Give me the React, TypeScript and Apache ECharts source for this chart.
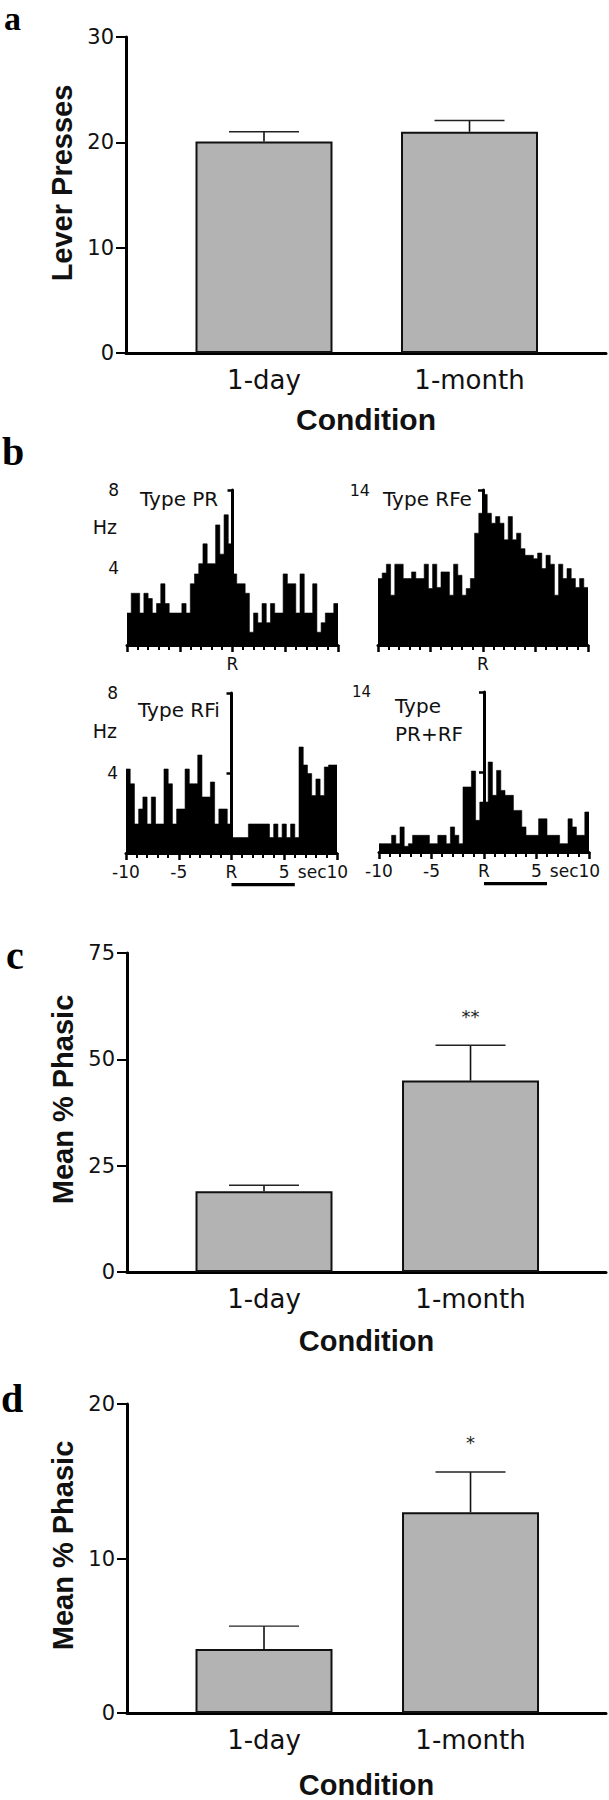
import React, { useEffect, useRef } from 'react';
import * as echarts from 'echarts';

// ---------- data ----------
const categories = ['1-day', '1-month'];
const categoryPositions = [1, 2];

const leverMeans = [20.07, 21.0];
const leverErr = [0.93, 1.07];

const phasicCMeans = [19.0, 45.0];
const phasicCErr = [1.4, 8.3];
const phasicCSig = ['', '**'];

const phasicDMeans = [4.15, 13.0];
const phasicDErr = [1.47, 2.6];
const phasicDSig = ['', '*'];

const binStart = -10;
const binWidth = 0.4;

const binsPR = [
  1.65, 2.67, 2.67, 1.65, 2.67, 2.4, 1.65, 2.14, 3.16, 2.14,
  1.65, 1.65, 1.65, 2.14, 1.65, 3.16, 3.67, 4.2, 5.22, 4.2,
  4.2, 6.2, 4.69, 6.72, 5.22, 3.67, 3.16, 3.16, 2.67, 0.66,
  1.65, 1.15, 2.14, 1.15, 2.14, 1.65, 1.65, 3.67, 3.16, 3.16,
  1.65, 3.67, 1.65, 1.65, 3.16, 0.66, 1.15, 1.65, 1.65, 2.14,
];
const binsRFe = [
  6.0, 6.5, 7.3, 4.5, 7.3, 7.3, 6.0, 6.0, 6.6, 6.0,
  6.0, 7.3, 5.1, 7.3, 5.2, 6.6, 6.6, 4.5, 7.3, 6.3,
  4.5, 5.1, 6.0, 10.1, 11.9, 13.6, 11.9, 11.0, 11.6, 11.0,
  9.5, 11.6, 9.5, 10.1, 8.7, 8.1, 8.1, 7.8, 8.3, 6.9,
  8.1, 7.3, 4.5, 7.3, 6.0, 6.9, 6.0, 5.2, 6.0, 5.2,
];
const binsRFi = [
  4.2, 3.46, 1.45, 2.2, 2.8, 1.45, 2.8, 1.45, 1.45, 4.2,
  3.46, 1.45, 2.2, 2.2, 4.2, 3.46, 3.46, 4.9, 2.8, 2.8,
  3.55, 1.45, 2.2, 2.2, 1.45, 0.77, 0.77, 0.77, 0.77, 1.45,
  1.45, 1.45, 1.45, 1.45, 0.77, 1.45, 0.77, 1.45, 0.77, 1.45,
  0.77, 5.3, 4.4, 3.97, 2.87, 3.7, 2.87, 4.3, 4.4, 4.4,
];
const binsPRRF = [
  0.73, 0.73, 0.73, 1.46, 0.73, 2.19, 0.5, 0.73, 1.46, 1.46,
  1.46, 1.46, 0.73, 0.73, 1.46, 1.46, 0.73, 2.19, 1.46, 0.73,
  5.69, 5.69, 7.08, 2.77, 4.37, 4.37, 7.87, 4.96, 7.14, 5.39,
  4.96, 4.96, 3.64, 3.64, 2.19, 1.46, 1.46, 1.46, 2.9, 2.9,
  1.46, 1.46, 1.46, 0.73, 0.73, 2.9, 2.19, 1.46, 1.46, 3.5,
];
const rewardWindow = [0, 6];

// ---------- styles ----------
const SANS = '"DejaVu Sans", Verdana, sans-serif';
const ARIAL = '"Liberation Sans", Arial, sans-serif';
const SERIF = '"Liberation Serif", "Times New Roman", serif';
const INK = '#111';

function barXAxis(gridIndex: number, min: number, max: number, nameGap: number, nameSize: number) {
  return {
    type: 'value', gridIndex, min, max,
    axisLine: { show: true, onZero: false, lineStyle: { color: '#000', width: 3 } },
    axisTick: { show: false },
    splitLine: { show: false },
    axisLabel: {
      customValues: categoryPositions,
      formatter: (v: number) => categories[categoryPositions.indexOf(v)] ?? '',
      fontFamily: SANS, fontSize: 26, color: INK, margin: 14,
    },
    name: 'Condition', nameLocation: 'middle', nameGap,
    nameTextStyle: { fontFamily: ARIAL, fontWeight: 'bold', fontSize: nameSize, color: INK },
  };
}

function barYAxis(gridIndex: number, max: number, interval: number, name: string, shift: number) {
  return {
    type: 'value', gridIndex, min: 0, max, interval,
    axisLine: { show: true, lineStyle: { color: '#000', width: 3 } },
    axisTick: { show: true, length: 10, lineStyle: { color: '#000', width: 2 } },
    splitLine: { show: false },
    axisLabel: { fontFamily: SANS, fontSize: 21, color: INK, margin: 12 },
    name, nameLocation: 'middle', nameGap: 47, nameRotate: 90,
    nameTextStyle: { fontFamily: ARIAL, fontWeight: 'bold', fontSize: 29, color: INK, padding: [0, 0, 0, shift] },
  };
}

function histXAxis(gridIndex: number, full: boolean) {
  return {
    type: 'value', gridIndex, min: -10, max: 10, interval: 5,
    axisLine: { show: true, onZero: false, lineStyle: { color: '#000', width: 3 } },
    axisTick: { show: true, length: 7, lineStyle: { color: '#000', width: 2.5 } },
    minorTick: { show: true, splitNumber: 5, length: 5, lineStyle: { color: '#000', width: 2 } },
    splitLine: { show: false },
    minorSplitLine: { show: false },
    axisLabel: {
      showMinLabel: true, showMaxLabel: true,
      formatter: (v: number) => {
        if (v === 0) return 'R';
        if (!full) return '';
        if (v === 10) return '{s|sec10}';
        return String(v);
      },
      fontFamily: SANS, fontSize: 17, color: INK, margin: 10,
      rich: { s: { fontFamily: SANS, fontSize: 17, color: INK, padding: [0, 28, 0, 0] } },
    },
  };
}

function histYAxis(gridIndex: number, max: number, interval: number, labels: number[], fontSize: number) {
  return {
    type: 'value', gridIndex, min: 0, max, interval,
    axisLine: { show: true, lineStyle: { color: '#000', width: 3 } },
    axisTick: { show: true, length: 5, lineStyle: { color: '#000', width: 2.5 } },
    splitLine: { show: false },
    axisLabel: {
      showMaxLabel: true,
      formatter: (v: number) => (labels.indexOf(v) >= 0 ? String(v) : ''),
      fontFamily: SANS, fontSize, color: INK, margin: 8,
    },
  };
}

function barSeries(idx: number, means: number[]) {
  return {
    type: 'bar', xAxisIndex: idx, yAxisIndex: idx, barWidth: 137,
    data: categoryPositions.map((x, i) => [x, means[i]]),
    itemStyle: { color: '#b3b3b3', borderColor: '#111', borderWidth: 2 },
  };
}

function errSeries(idx: number, means: number[], errs: number[], sig: string[] | null) {
  return {
    type: 'custom', xAxisIndex: idx, yAxisIndex: idx, z: 5,
    data: categoryPositions.map((x, i) => [x, means[i], errs[i]]),
    renderItem: (params: any, api: any) => {
      const x = api.value(0), m = api.value(1), e = api.value(2);
      const p0 = api.coord([x, m]);
      const p1 = api.coord([x, m + e]);
      const children: any[] = [
        { type: 'line', shape: { x1: p0[0], y1: p0[1], x2: p1[0], y2: p1[1] }, style: { stroke: '#111', lineWidth: 1.6 } },
        { type: 'line', shape: { x1: p1[0] - 35, y1: p1[1], x2: p1[0] + 35, y2: p1[1] }, style: { stroke: '#222', lineWidth: 1.4 } },
      ];
      const s = sig ? sig[params.dataIndex] : '';
      if (s) {
        children.push({
          type: 'text', x: p1[0], y: p1[1] - 29,
          style: { text: s, fontFamily: SANS, fontSize: 18, fill: '#222', align: 'center', verticalAlign: 'middle' },
        });
      }
      return { type: 'group', children };
    },
  };
}

function histSeries(idx: number, bins: number[]) {
  const data = bins.map((v, i) => [binStart + i * binWidth, v]);
  data.push([binStart + bins.length * binWidth, bins[bins.length - 1]]);
  return {
    type: 'line', xAxisIndex: idx, yAxisIndex: idx, step: 'end', symbol: 'none',
    lineStyle: { color: '#000', width: 0.6 },
    areaStyle: { color: '#000', opacity: 1 },
    data,
    markLine: {
      silent: true, symbol: ['none', 'none'], label: { show: false },
      lineStyle: { color: '#000', width: 2.6, type: [3, 2.5] },
      data: [{ xAxis: 0 }],
    },
  };
}

function rewardSeries(idx: number) {
  return {
    type: 'custom', xAxisIndex: idx, yAxisIndex: idx, clip: false,
    data: [rewardWindow],
    renderItem: (params: any, api: any) => {
      const a = api.coord([api.value(0), 0]);
      const b = api.coord([api.value(1), 0]);
      return { type: 'rect', shape: { x: a[0], y: a[1] + 30, width: b[0] - a[0], height: 3.2 }, style: { fill: '#000' } };
    },
  };
}

function txt(x: number, y: number, text: string, font: string, size: number, opts: any = {}) {
  return {
    type: 'text', x, y,
    style: { text, fontFamily: font, fontSize: size, fill: INK, align: 'left', verticalAlign: 'top', ...opts },
  };
}

function letter(x: number, y: number, text: string, size: number, lineHeight?: number) {
  const opts: any = { fontWeight: 'bold', fill: '#000' };
  if (lineHeight) opts.lineHeight = lineHeight;
  return txt(x, y, text, SERIF, size, opts);
}

export default function App() {
  const ref = useRef<HTMLDivElement>(null);
  useEffect(() => {
    if (!ref.current) return;
    const chart = echarts.init(ref.current, null, { renderer: 'svg' });
    const option: any = {
      animation: false,
      backgroundColor: '#ffffff',
      grid: [
        { left: 126, top: 37, width: 480, height: 316 },
        { left: 127, top: 490, width: 211, height: 155 },
        { left: 378, top: 490, width: 210, height: 155 },
        { left: 126, top: 693, width: 211, height: 160 },
        { left: 379, top: 692, width: 210, height: 160 },
        { left: 127, top: 953, width: 479, height: 319 },
        { left: 127, top: 1404, width: 479, height: 316 },
      ],
      xAxis: [
        barXAxis(0, 0.3285, 2.6642, 51, 30),
        histXAxis(1, false),
        histXAxis(2, false),
        histXAxis(3, true),
        histXAxis(4, true),
        barXAxis(5, 0.3366, 2.656, 54, 29),
        barXAxis(6, 0.3366, 2.656, 57, 29),
      ],
      yAxis: [
        barYAxis(0, 30, 10, 'Lever Presses', 24),
        histYAxis(1, 8, 4, [4, 8], 17),
        histYAxis(2, 14, 7, [14], 16),
        histYAxis(3, 8, 4, [4, 8], 17),
        histYAxis(4, 14, 7, [14], 15),
        barYAxis(5, 75, 25, 'Mean % Phasic', 26),
        barYAxis(6, 20, 10, 'Mean % Phasic', 26),
      ],
      series: [
        barSeries(0, leverMeans),
        errSeries(0, leverMeans, leverErr, null),
        histSeries(1, binsPR),
        histSeries(2, binsRFe),
        histSeries(3, binsRFi),
        histSeries(4, binsPRRF),
        rewardSeries(3),
        rewardSeries(4),
        barSeries(5, phasicCMeans),
        errSeries(5, phasicCMeans, phasicCErr, phasicCSig),
        barSeries(6, phasicDMeans),
        errSeries(6, phasicDMeans, phasicDErr, phasicDSig),
      ],
      graphic: [
        letter(4, 1, 'a', 34),
        letter(2, 437, 'b', 40, 28),
        letter(6, 941, 'c', 40, 28),
        letter(1, 1384, 'd', 40, 28),
        txt(140, 489, 'Type PR', SANS, 20),
        txt(383, 489, 'Type RFe', SANS, 20),
        txt(138, 700, 'Type RFi', SANS, 20),
        txt(395, 692, 'Type\nPR+RF', SANS, 20, { lineHeight: 28 }),
        txt(117, 517, 'Hz', SANS, 19, { align: 'right' }),
        txt(117, 721, 'Hz', SANS, 19, { align: 'right' }),
      ],
    };
    chart.setOption(option);
    return () => chart.dispose();
  }, []);
  return <div ref={ref} style={{ position: 'absolute', left: 0, top: 0, width: 609, height: 1800 }} />;
}
